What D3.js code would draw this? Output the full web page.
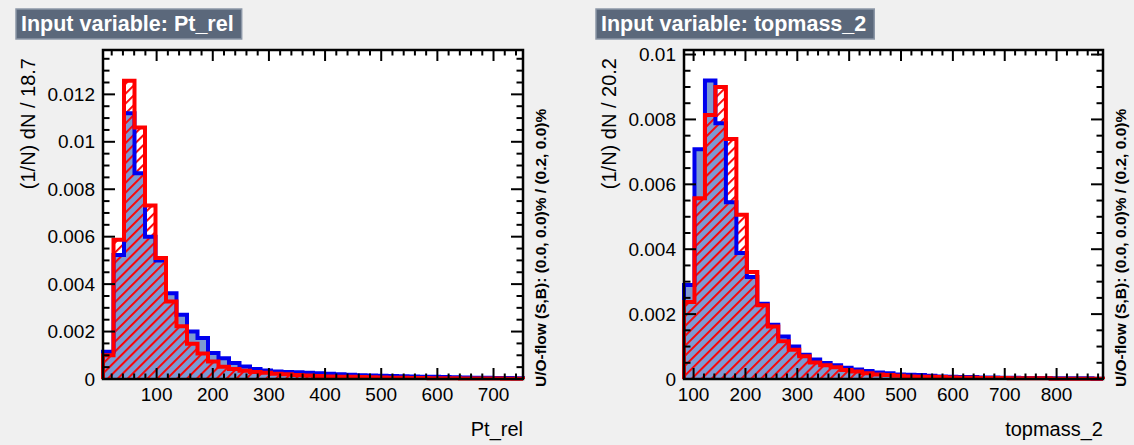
<!DOCTYPE html>
<html>
<head>
<meta charset="utf-8">
<script src="https://cdn.jsdelivr.net/npm/d3@7"></script>
<style>
  html, body { margin: 0; padding: 0; background: #f0f0f0; }
  svg { display: block; }
  text { font-family: "Liberation Sans", Arial, Helvetica, sans-serif; }
</style>
</head>
<body>
<svg id="chart" width="1134" height="445"></svg>
<script>
// ---------------- DATA ----------------
const leftTitle = "Input variable: Pt_rel";
const leftXLabel = "Pt_rel";
const leftYLabel = "(1/N) dN / 18.7";
const leftXMin = 4.5;
const leftBinWidth = 18.7;
const leftYMax = 0.01387;
const leftXTicks = [100, 200, 300, 400, 500, 600, 700];
const leftYTicks = [0, 0.002, 0.004, 0.006, 0.008, 0.01, 0.012];
const leftYTickLabels = ["0", "0.002", "0.004", "0.006", "0.008", "0.01", "0.012"];
const leftSignal = [0.00115, 0.00523, 0.0112, 0.00867, 0.0060, 0.0050, 0.00362, 0.00271, 0.0020, 0.00173,
  0.0011, 0.00088, 0.00067, 0.00053, 0.00042, 0.00036, 0.00032, 0.0003, 0.00028, 0.00026,
  0.00024, 0.00022, 0.0002, 0.00018, 0.00016, 0.00015, 0.00014, 0.00013, 0.00012, 0.00011,
  0.0001, 0.00009, 0.00008, 0.00007, 0.00006, 0.00005, 0.00005, 0.00004, 0.00004, 0.00003];
const leftBackground = [0.0010, 0.00587, 0.01257, 0.0106, 0.00731, 0.0051, 0.00327, 0.00222, 0.00149, 0.00107,
  0.00074, 0.00052, 0.00042, 0.00035, 0.0003, 0.00026, 0.00022, 0.0002, 0.00017, 0.00015,
  0.00013, 0.00011, 0.0001, 0.00009, 0.00008, 0.00007, 0.00006, 0.00005, 0.00005, 0.00004,
  0.00004, 0.00003, 0.00003, 0.00003, 0.00002, 0.00002, 0.00002, 0.00002, 0.00001, 0.00001];

const rightTitle = "Input variable: topmass_2";
const rightXLabel = "topmass_2";
const rightYLabel = "(1/N) dN / 20.2";
const rightXMin = 81.5;
const rightBinWidth = 20.2;
const rightYMax = 0.01014;
const rightXTicks = [100, 200, 300, 400, 500, 600, 700, 800];
const rightYTicks = [0, 0.002, 0.004, 0.006, 0.008, 0.01];
const rightYTickLabels = ["0", "0.002", "0.004", "0.006", "0.008", "0.01"];
const rightSignal = [0.0029, 0.00708, 0.0092, 0.00788, 0.00545, 0.00388, 0.00314, 0.00232, 0.00167, 0.00131,
  0.001, 0.00075, 0.0006, 0.00049, 0.00042, 0.00035, 0.00029, 0.00025, 0.0002, 0.00018,
  0.00014, 0.00013, 0.00012, 0.0001, 0.00008, 0.00007, 0.00006, 0.00006, 0.00005, 0.00005,
  0.00004, 0.00004, 0.00003, 0.00003, 0.00003, 0.00002, 0.00002, 0.00002, 0.00002, 0.00001];
const rightBackground = [0.00237, 0.00557, 0.00814, 0.009, 0.0074, 0.00506, 0.0033, 0.00227, 0.00162, 0.00116,
  0.0009, 0.0007, 0.00051, 0.00042, 0.00036, 0.00028, 0.00023, 0.00018, 0.00014, 0.00012,
  0.0001, 0.00008, 0.00007, 0.00007, 0.00006, 0.00005, 0.00004, 0.00004, 0.00003, 0.00003,
  0.00003, 0.00002, 0.00002, 0.00002, 0.00002, 0.00001, 0.00001, 0.00001, 0.00001, 0.00001];

const overflowText = "U/O-flow (S,B): (0.0, 0.0)% / (0.2, 0.0)%";

// ---------------- DRAW ----------------
const svg = d3.select("#chart");
const defs = svg.append("defs");
const pat = defs.append("pattern")
  .attr("id", "hatch")
  .attr("patternUnits", "userSpaceOnUse")
  .attr("width", 7).attr("height", 7)
  .attr("patternTransform", "rotate(45)");
pat.append("rect").attr("x", 0).attr("y", 0).attr("width", 1.9).attr("height", 7).attr("fill", "#ff0000");

function drawPanel(cfg) {
  const g = svg.append("g");
  const nb = cfg.signal.length;
  const xMax = cfg.xMin + nb * cfg.binWidth;
  const x = d3.scaleLinear().domain([cfg.xMin, xMax]).range([cfg.left, cfg.right]);
  const y = d3.scaleLinear().domain([0, cfg.yMax]).range([cfg.bottom, cfg.top]);

  // title box (sized to its text)
  const tbox = g.append("rect")
    .attr("x", cfg.titleX).attr("y", 9).attr("height", 30)
    .attr("fill", "#5b687b").attr("stroke", "#8c97a7").attr("stroke-width", 1.5);
  const ttext = g.append("text")
    .attr("x", cfg.titleX + 5).attr("y", 31)
    .attr("fill", "#ffffff").attr("font-weight", "bold").attr("font-size", 21.5)
    .text(cfg.title);
  tbox.attr("width", ttext.node().getComputedTextLength() + 13);

  // frame background
  g.append("rect")
    .attr("x", cfg.left).attr("y", cfg.top)
    .attr("width", cfg.right - cfg.left).attr("height", cfg.bottom - cfg.top)
    .attr("fill", "#ffffff");

  function stepPoints(vals) {
    const pts = [[cfg.xMin, 0]];
    vals.forEach((v, i) => {
      pts.push([cfg.xMin + i * cfg.binWidth, v]);
      pts.push([cfg.xMin + (i + 1) * cfg.binWidth, v]);
    });
    pts.push([xMax, 0]);
    return pts;
  }
  const line = d3.line().x(d => x(d[0])).y(d => y(d[1]));

  const sPts = stepPoints(cfg.signal);
  const bPts = stepPoints(cfg.background);

  g.append("path").attr("d", line(sPts) + "Z").attr("fill", "#7d99d1").attr("stroke", "none");
  g.append("path").attr("d", line(bPts) + "Z").attr("fill", "url(#hatch)").attr("stroke", "none");
  g.append("path").attr("d", line(sPts)).attr("fill", "none")
    .attr("stroke", "#0000ee").attr("stroke-width", 4).attr("stroke-linejoin", "miter");
  g.append("path").attr("d", line(bPts)).attr("fill", "none")
    .attr("stroke", "#ff0000").attr("stroke-width", 4).attr("stroke-linejoin", "miter");

  // ticks
  const tk = g.append("g").attr("stroke", "#000").attr("stroke-width", 2);
  const xMinor = d3.range(0, xMax + 1, 20).filter(v => v > cfg.xMin + 1 && v < xMax - 1);
  xMinor.forEach(v => {
    const major = v % 100 === 0;
    const L = major ? 11 : 5.5;
    tk.append("line").attr("x1", x(v)).attr("x2", x(v)).attr("y1", cfg.bottom).attr("y2", cfg.bottom - L);
    tk.append("line").attr("x1", x(v)).attr("x2", x(v)).attr("y1", cfg.top).attr("y2", cfg.top + L);
  });
  const yMinor = d3.range(0, cfg.yMax + 1e-9, 0.0005).map(v => +v.toFixed(6));
  yMinor.forEach(v => {
    const major = Math.abs(v / 0.002 - Math.round(v / 0.002)) < 1e-6;
    const L = major ? 12 : 6.5;
    tk.append("line").attr("x1", cfg.left).attr("x2", cfg.left + L).attr("y1", y(v)).attr("y2", y(v));
    tk.append("line").attr("x1", cfg.right).attr("x2", cfg.right - L).attr("y1", y(v)).attr("y2", y(v));
  });

  // frame
  g.append("rect")
    .attr("x", cfg.left).attr("y", cfg.top)
    .attr("width", cfg.right - cfg.left).attr("height", cfg.bottom - cfg.top)
    .attr("fill", "none").attr("stroke", "#000").attr("stroke-width", 2.5);

  // tick labels
  cfg.xTicks.forEach(v => {
    g.append("text").attr("x", x(v)).attr("y", 401)
      .attr("text-anchor", "middle").attr("font-size", 19).attr("fill", "#000").text(String(v));
  });
  cfg.yTicks.forEach((v, i) => {
    g.append("text").attr("x", cfg.left - 8).attr("y", y(v)).attr("dy", "0.35em")
      .attr("text-anchor", "end").attr("font-size", 19).attr("fill", "#000").text(cfg.yTickLabels[i]);
  });

  // axis titles
  g.append("text").attr("x", cfg.right).attr("y", 436)
    .attr("text-anchor", "end").attr("font-size", 20).attr("fill", "#000").text(cfg.xLabel);
  g.append("text")
    .attr("transform", `translate(${cfg.yTitleX},58) rotate(-90)`)
    .attr("text-anchor", "end").attr("dy", "0.35em")
    .attr("font-size", 20).attr("fill", "#000").text(cfg.yLabel);

  // overflow text
  g.append("text")
    .attr("transform", `translate(${cfg.ofX},387) rotate(-90)`)
    .attr("text-anchor", "start").attr("dy", "0.35em")
    .attr("font-size", 15.5).attr("font-weight", "bold").attr("fill", "#000").text(overflowText);
}

drawPanel({
  title: leftTitle, titleX: 16,
  xLabel: leftXLabel, yLabel: leftYLabel,
  xMin: leftXMin, binWidth: leftBinWidth, yMax: leftYMax,
  xTicks: leftXTicks, yTicks: leftYTicks, yTickLabels: leftYTickLabels,
  signal: leftSignal, background: leftBackground,
  left: 103, right: 523, top: 50, bottom: 379,
  yTitleX: 28, ofX: 541
});
drawPanel({
  title: rightTitle, titleX: 596,
  xLabel: rightXLabel, yLabel: rightYLabel,
  xMin: rightXMin, binWidth: rightBinWidth, yMax: rightYMax,
  xTicks: rightXTicks, yTicks: rightYTicks, yTickLabels: rightYTickLabels,
  signal: rightSignal, background: rightBackground,
  left: 684, right: 1103, top: 50, bottom: 379,
  yTitleX: 609, ofX: 1121
});
</script>
</body>
</html>
